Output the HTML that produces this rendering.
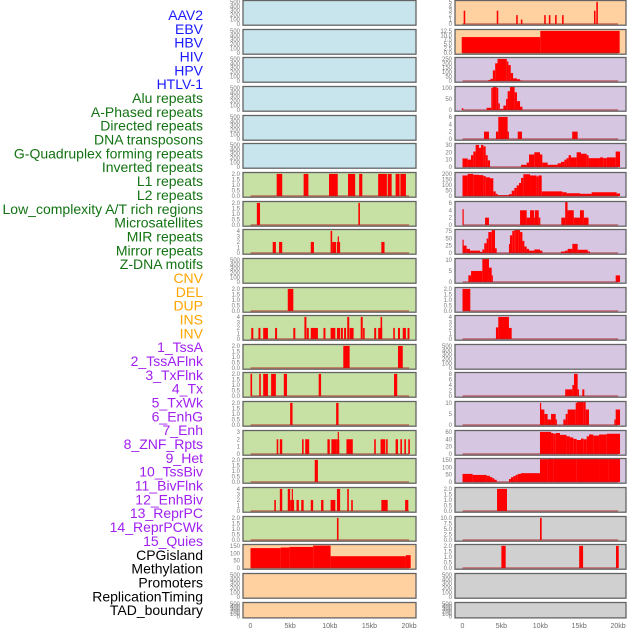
<!DOCTYPE html>
<html><head><meta charset="utf-8"><style>
html,body{margin:0;padding:0;background:#fff;width:630px;height:630px;overflow:hidden}
svg{display:block;font-family:"Liberation Sans",sans-serif}
</style></head><body>
<svg id="chart" width="630" height="630" viewBox="0 0 630 630" xmlns="http://www.w3.org/2000/svg"></svg>
<script>
// ---- labels ----
const labelNames = ["AAV2","EBV","HBV","HIV","HPV","HTLV-1","Alu repeats","A-Phased repeats","Directed repeats","DNA transposons","G-Quadruplex forming repeats","Inverted repeats","L1 repeats","L2 repeats","Low_complexity A/T rich regions","Microsatellites","MIR repeats","Mirror repeats","Z-DNA motifs","CNV","DEL","DUP","INS","INV","1_TssA","2_TssAFlnk","3_TxFlnk","4_Tx","5_TxWk","6_EnhG","7_Enh","8_ZNF_Rpts","9_Het","10_TssBiv","11_BivFlnk","12_EnhBiv","13_ReprPC","14_ReprPCWk","15_Quies","CPGisland","Methylation","Promoters","ReplicationTiming","TAD_boundary"];
const labelGroups = [6,13,5,15,5]; // blue, green, orange, purple, black counts
const groupColors = ["#1a1aff","#137313","#ffa500","#a020f0","#000000"];
// ---- tick sets ----
const T_EMPTY=[0,100,200,300,400,500], T2=[0,0.5,1,1.5,2], T3=[0,1,2,3], T4=[0,1,2,3,4];
const xTicks=[0,5,10,15,20];
const xTickLabels=["0","5kb","10kb","15kb","20kb"];
// ---- left column bars [startKb,endKb,value] ----
const L6=[[3.3,4.0,2],[6.7,7.3,2],[9.9,11.0,2],[12.3,13.2,2],[13.7,14.1,2],[16.1,17.2,2],[17.3,17.8,2],[18.3,18.8,2],[18.9,19.6,2]];
const L7=[[0.8,1.2,2],[13.6,13.8,2]];
const L8=[[2.8,3.2,2],[3.6,4.0,2],[7.6,8.0,2],[10.1,10.3,4],[10.3,10.8,2],[10.9,11.3,2],[11.0,11.1,3],[16.5,16.9,2]];
const L10=[[4.7,5.4,2]];
const L11=[[0.1,0.35,2],[1.0,1.25,2],[1.6,2.2,2],[3.1,3.35,2],[5.4,5.65,2],[6.8,7.05,4],[7.1,7.35,2],[7.6,8.5,2],[9.2,9.45,2],[10.1,10.7,2],[10.9,11.3,2],[11.4,11.65,2],[11.8,12.05,2],[12.2,12.45,4],[12.5,13.0,2],[13.9,14.15,4],[14.2,14.4,2],[15.6,15.85,2],[16.1,16.35,2],[16.3,16.6,2],[16.4,16.6,4],[18.0,18.2,2],[18.6,18.85,2],[19.2,19.6,2],[19.8,20.05,2]];
const L12=[[11.7,12.5,2],[18.6,19.2,2]];
const L13=[[0,0.2,2],[1.1,1.3,2],[1.6,2.2,2],[2.6,3.2,2],[4.2,4.6,2],[8.6,8.9,2],[18.1,18.5,2]];
const L14=[[5.0,5.3,2],[10.8,11.1,2]];
const L15=[[3.3,3.5,2],[3.7,4.0,2],[6.5,6.7,2],[6.9,7.4,2],[9.7,10.0,2],[10.2,10.8,2],[10.8,11.2,2],[11.0,11.1,3],[12.1,12.9,2],[15.6,15.8,2],[16.4,17.0,2],[17.1,17.3,2],[18.3,18.6,2],[18.9,19.1,2],[19.4,19.6,2],[19.9,20.1,2]];
const L16=[[8.1,8.5,2]];
const L17=[[3.0,3.2,2],[3.7,4.0,4],[4.7,5.0,4],[5.0,5.5,2],[5.2,5.35,4],[5.8,6.1,2],[6.4,6.7,2],[7.6,7.9,2],[8.9,9.2,2],[10.1,10.7,2],[10.9,11.3,4],[12.2,12.4,4],[12.7,12.9,2],[16.5,17.3,2],[19.5,19.9,2]];
const L18=[[10.9,11.1,2]];
const L19=[[0,3.8,135],[3.8,4.9,139],[4.9,7.9,143],[7.9,10.1,152],[10.1,19.6,80],[19.6,20.2,87]];
// ---- right column bars ----
const R0=[[0.15,0.35,3],[4.4,4.6,3],[6.9,7.1,2],[7.5,7.7,1],[10.5,10.7,2],[11.1,11.3,2],[11.9,12.1,2],[12.8,13.0,2],[16.9,17.1,3],[17.2,17.4,5]];
const R1=[[-0.1,10.0,9],[10.0,20.2,12.5]];
const R2=[[3.3,3.6,10],[3.6,3.9,25],[3.9,4.2,120],[4.2,4.5,200],[4.5,5.7,250],[5.7,5.9,220],[5.9,6.2,180],[6.2,6.5,90],[6.5,7.0,30],[7.0,7.4,20],[7.4,7.7,5]];
const R3=[[-0.1,0.1,8],[3.1,3.7,10],[3.7,3.9,100],[3.9,4.4,148],[4.4,4.6,100],[4.6,4.8,30],[4.8,5.25,5],[5.25,5.6,20],[5.6,5.8,50],[5.8,6.1,85],[6.1,6.7,118],[6.7,7.0,80],[7.0,7.4,40],[7.4,7.7,15]];
const R4=[[2.76,3.4,2],[4.3,4.6,2],[4.6,5.8,6],[5.8,5.97,2],[7.1,7.65,2],[14.1,14.8,2]];
const R5=[[0,0.66,11.6],[0.66,1.09,10],[1.09,1.39,16],[1.39,1.69,21],[1.69,2.12,30],[2.12,2.38,26],[2.38,2.68,30],[2.68,2.98,28],[2.98,3.24,16],[3.24,3.54,9],[7.52,8.25,3],[8.25,8.55,6],[8.55,9.23,17],[9.23,9.96,20],[9.96,10.26,17],[10.26,10.94,6],[10.94,12.23,3],[12.23,12.66,5],[12.66,13.09,7],[13.09,13.38,10],[13.38,13.64,12],[13.64,13.94,16],[13.94,14.67,13],[14.67,15.23,20],[15.23,15.96,18],[15.96,16.21,16],[16.21,17.67,12],[17.67,18.1,13],[18.1,18.53,12],[18.53,19.69,13],[19.69,20.25,21]];
const R6=[[0,0.66,186],[0.66,1.39,200],[1.39,2.12,192],[2.12,2.68,189],[2.68,2.98,180],[2.98,3.53,169],[3.53,3.96,160],[3.96,4.26,42],[4.26,4.52,20],[4.52,5.97,8],[5.97,6.32,17],[6.32,6.66,48],[6.66,6.96,73],[6.96,7.26,96],[7.26,7.52,118],[7.52,7.82,163],[7.82,8.68,197],[8.68,9.53,186],[9.53,9.75,177],[9.75,10.18,186],[10.18,12.83,42],[12.83,13.38,34],[13.38,15.1,25],[15.1,16.6,20],[16.6,19.8,34],[19.8,20.25,23]];
const R7=[[0,0.1,4.3],[2.9,3.4,2],[7.4,8.25,4],[8.25,8.68,2],[8.68,9.2,4],[9.2,9.3,2],[9.3,9.8,4],[9.8,10.0,2],[12.7,13.2,2],[13.2,13.5,6.4],[13.5,14.3,4],[14.3,15.1,2],[15.1,15.6,4],[15.6,16.2,2]];
const R8=[[0,0.1,45],[0.1,0.53,25],[0.53,0.96,14],[0.96,2.25,8],[2.25,2.55,4],[2.55,2.8,12],[2.8,3.1,33],[3.1,3.32,49],[3.32,3.75,71],[3.75,4.18,82],[4.18,4.4,16],[5.97,6.1,30],[6.1,6.4,60],[6.4,6.66,75],[6.66,6.83,89],[6.83,7.18,98],[7.18,7.4,82],[7.4,7.7,71],[7.7,7.95,41],[7.95,8.25,22],[8.25,8.55,14],[8.55,9.23,8],[9.23,9.96,12],[9.96,10.26,8],[12.66,13.18,5],[13.18,13.52,8],[13.52,14.12,14],[14.12,14.8,31],[14.8,16.1,11],[16.1,16.39,5]];
const R9=[[0.75,1.1,3],[1.1,2.55,5],[2.55,3.4,14],[3.4,3.75,6.5],[3.75,3.83,3],[19.69,20.25,3]];
const R10=[[0,1.0,2]];
const R11=[[4.3,4.6,2.1],[4.6,5.97,4],[5.97,6.32,2]];
const R13=[[13.2,14.12,2.4],[14.12,14.33,4],[14.33,14.8,8],[14.8,14.97,2.4],[15.4,15.66,2.4]];
const R14=[[9.96,10.09,10],[10.09,10.52,7],[10.52,10.94,5],[10.94,11.38,2.5],[11.38,11.98,5],[11.98,12.1,2.5],[12.96,13.26,2.5],[13.26,13.52,5],[13.52,14.55,7],[14.55,14.72,10],[14.72,14.97,13],[14.97,15.53,14.5],[15.53,15.83,11],[15.83,16.26,7],[19.52,19.69,2.5],[19.69,20.25,7]];
const R15=[[9.96,11.38,60],[11.38,11.68,57],[11.68,11.98,55],[11.98,12.53,57],[12.53,13.38,52],[13.38,13.81,48],[13.81,14.24,45],[14.24,14.67,41],[14.67,15.23,38],[15.23,15.53,42],[15.53,15.96,40],[15.96,16.26,48],[16.26,16.82,53],[16.82,17.55,50],[17.55,18.53,53],[18.53,20.25,55]];
const R16=[[0,1.3,55],[1.3,3.1,48],[3.1,3.53,42],[3.53,3.83,33],[3.83,4.1,25],[4.1,4.4,15],[5.97,6.23,20],[6.23,6.53,32],[6.53,6.83,40],[6.83,7.1,48],[7.1,7.52,55],[7.52,9.96,60],[9.96,10.94,155],[10.94,11.68,165],[11.68,14.67,170],[14.67,17.67,175],[17.67,18.82,172],[18.82,20.25,160]];
const R17=[[4.44,5.72,2]];
const R18=[[9.96,10.18,10]];
const R19=[[5.0,5.55,2],[15.0,15.5,2],[19.73,20.08,2]];

const BLUE="#c8e4ec", GREEN="#c7e0a3", PEACH="#ffd1a0", PURPLE="#d6c6e2", GREY="#d0d0d0";
const leftPanels=[
 [BLUE,T_EMPTY,null],[BLUE,T_EMPTY,null],[BLUE,T_EMPTY,null],[BLUE,T_EMPTY,null],[BLUE,T_EMPTY,null],[BLUE,T_EMPTY,null],
 [GREEN,T2,L6],[GREEN,T2,L7],[GREEN,T4,L8],[GREEN,T_EMPTY,null],[GREEN,T2,L10],[GREEN,T4,L11],[GREEN,T2,L12],[GREEN,T2,L13],
 [GREEN,T2,L14],[GREEN,T3,L15],[GREEN,T2,L16],[GREEN,T4,L17],[GREEN,T2,L18],
 [PEACH,[0,50,100,150],L19],[PEACH,T_EMPTY,null],[PEACH,T_EMPTY,null]];
const rightPanels=[
 [PEACH,[0,1,2,3,4,5],R0],[PEACH,[0,2.5,5,7.5,10,12.5],R1],
 [PURPLE,[0,50,100,150,200,250],R2],[PURPLE,[0,50,100],R3],[PURPLE,[0,2,4,6],R4],[PURPLE,[0,10,20,30],R5],
 [PURPLE,[0,50,100,150,200],R6],[PURPLE,[0,2,4,6],R7],[PURPLE,[0,25,50,75],R8],[PURPLE,[0,5,10],R9],
 [PURPLE,T2,R10],[PURPLE,T4,R11],[PURPLE,T_EMPTY,null],[PURPLE,[0,2,4,6,8],R13],[PURPLE,[0,5,10],R14],
 [PURPLE,[0,20,40,60],R15],[PURPLE,[0,50,100,150],R16],
 [GREY,T2,R17],[GREY,[0,2.5,5,7.5,10],R18],[GREY,T2,R19],[GREY,T_EMPTY,null],[GREY,T_EMPTY,null]];

const svg=document.getElementById('chart');
const NS="http://www.w3.org/2000/svg";
function mk(tag,attrs,parent){const e=document.createElementNS(NS,tag);for(const k in attrs)e.setAttribute(k,attrs[k]);(parent||svg).appendChild(e);return e;}

// labels
let gi=0,cnt=0;
labelNames.forEach((t,i)=>{
  while(cnt>=labelGroups[gi]){cnt=0;gi++;}
  cnt++;
  const e=mk('text',{x:203,y:15+i*13.84+5,'text-anchor':'end','font-size':14,fill:groupColors[gi]});
  e.textContent=t;
  
  
});

const cols=[{x0:243,x1:416,origin:250.5,scale:7.93,panels:leftPanels,name:'left'},
            {x0:455,x1:626,origin:462.5,scale:7.78,panels:rightPanels,name:'right'}];
cols.forEach(col=>{
  const xs=kb=>col.origin+kb*col.scale;
  col.panels.forEach((p,i)=>{
    const [bg,ticks,bars]=p;
    const top=Math.round(i*28.65)+0.5;
    const h=(i===21)?15.4:24.7;
    const bottom=top+h;
    const M=ticks[ticks.length-1];
    const ys=v=>bottom-1.2-(Math.min(v,M*1.04)/M)*(h-2.6);
    const g=mk('g',{});
    
    
    mk('rect',{x:col.x0,y:top,width:col.x1-col.x0,height:h,fill:bg},g);
    if(bars){
      bars.forEach(b=>{
        const r=mk('rect',{x:xs(b[0]),y:Math.max(top,ys(b[2])),width:Math.max(1.2,xs(b[1])-xs(b[0])),height:ys(0)-Math.max(top,ys(b[2])),fill:'#ff0000'},g);
        
        
      });
      const bl=mk('line',{x1:xs(0),x2:xs(20),y1:ys(0),y2:ys(0),stroke:'#b02020','stroke-opacity':0.6,'stroke-width':1.5},g);
      
      
    }
    mk('rect',{x:col.x0,y:top,width:col.x1-col.x0,height:h,fill:'none',stroke:'#646464','stroke-width':1.3},g);
    const dec=ticks.some(t=>t%1!==0);
    ticks.forEach(t=>{
      const tl=mk('text',{x:col.x0-3,y:ys(t)+2,'text-anchor':'end','font-size':6,fill:'#7a7a7a'},g);
      tl.textContent=dec?t.toFixed(1):String(t);
      
      
    });
  });
  xTicks.forEach((t,k)=>{
    const xl=mk('text',{x:xs(t),y:628,'text-anchor':'middle','font-size':7,fill:'#6a6a6a'});
    xl.textContent=xTickLabels[k];
    
    
  });
});
</script>
</body></html>
